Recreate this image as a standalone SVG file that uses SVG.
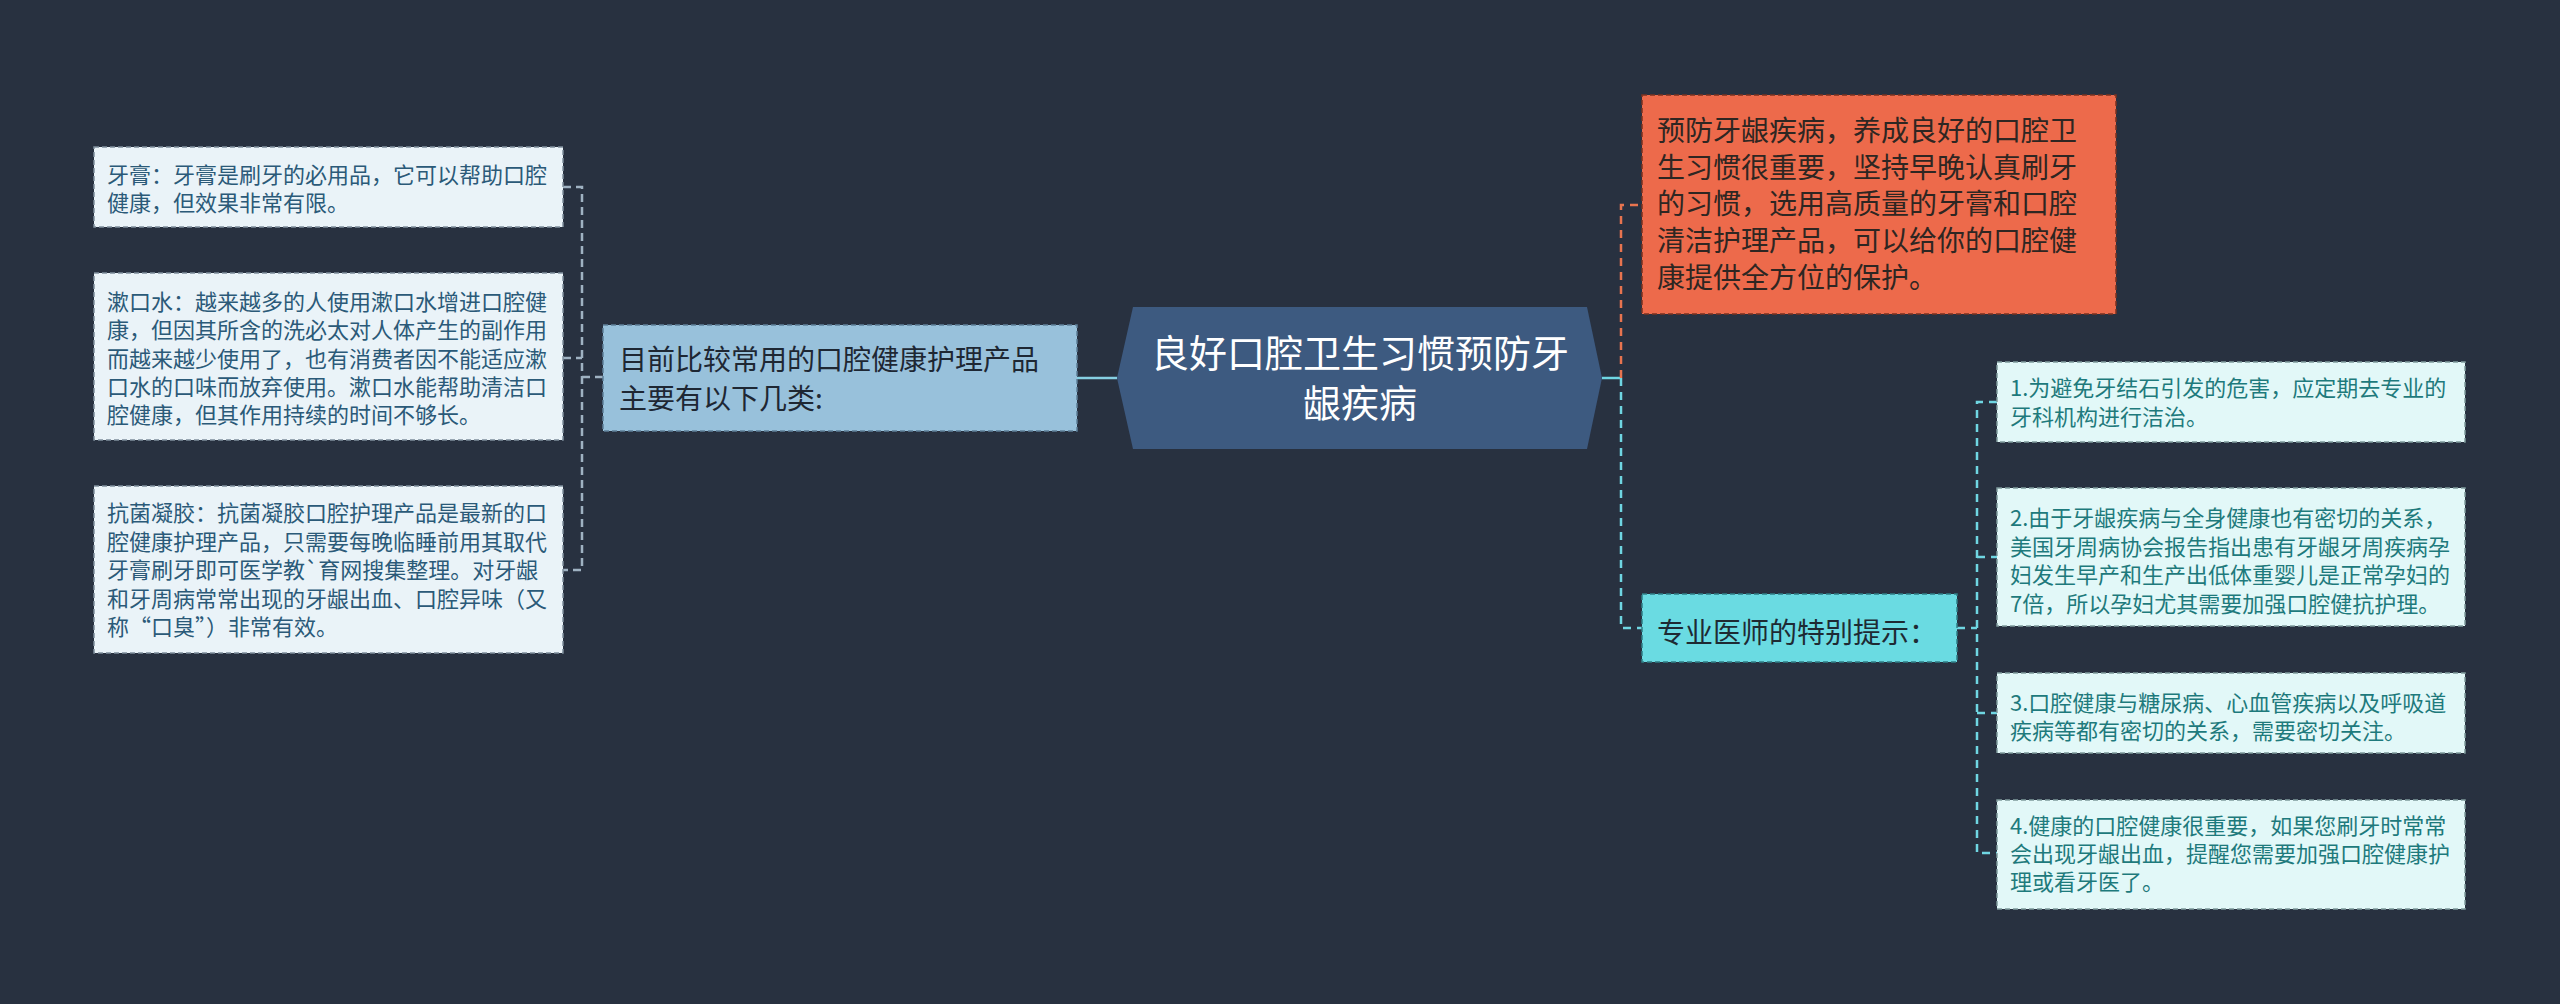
<svg xmlns="http://www.w3.org/2000/svg" width="2560" height="1004" viewBox="0 0 2560 1004">
<style>
text{font-family:"Noto Sans CJK SC","Noto Sans",sans-serif;}
.leaf{fill:#eaf3f8;stroke:#7f8f9c;stroke-width:1.5;stroke-dasharray:5 3;}
.leafT{font-size:22px;fill:#2b5a78;}
.rleaf{fill:#e2f8f8;stroke:#7f9a9c;stroke-width:1.5;stroke-dasharray:5 3;}
.rleafT{font-size:22px;fill:#1e7a7c;}
.c{fill:none;stroke-width:2.5;}
</style>
<rect width="2560" height="1004" fill="#283140"/>
<g id="connectors">
  <path class="c" d="M563 187H582V570H563M563 358H582M582 377H603" stroke="#9fb2c2" stroke-dasharray="8 5"/>
  <path class="c" d="M1077 378H1117" stroke="#86cfe2"/>
  <path class="c" d="M1602 378H1621" stroke="#6fd6e2"/>
  <path class="c" d="M1621 378V205H1642" stroke="#e8744f" stroke-dasharray="8 6"/>
  <path class="c" d="M1621 378V628H1642" stroke="#6fd6e2" stroke-dasharray="8 6"/>
  <path class="c" d="M1957 628H1977M1997 402H1977V853H1997M1977 557H1997M1977 713H1997" stroke="#6fd6e2" stroke-dasharray="8 6"/>
</g>
<g id="root">
  <polygon points="1133,307 1587,307 1602,378 1587,449 1133,449 1117,378" fill="#3d5a80"/>
  <text x="1360" y="367" text-anchor="middle" font-size="38" fill="#ffffff">良好口腔卫生习惯预防牙</text>
  <text x="1360" y="417" text-anchor="middle" font-size="38" fill="#ffffff">龈疾病</text>
</g>
<g id="products">
  <rect x="603" y="325" width="474" height="106" fill="#98c1db" stroke="#5d7f98" stroke-width="1.5" stroke-dasharray="5 3"/>
  <text x="619" y="370" font-size="28" fill="#1e2733">目前比较常用的口腔健康护理产品</text>
  <text x="619" y="409" font-size="28" fill="#1e2733">主要有以下几类:</text>
</g>
<g id="toothpaste">
  <rect class="leaf" x="94" y="147" width="469" height="80"/>
  <text class="leafT" x="107" y="183">牙膏：牙膏是刷牙的必用品，它可以帮助口腔</text>
  <text class="leafT" x="107" y="211">健康，但效果非常有限。</text>
</g>
<g id="mouthwash">
  <rect class="leaf" x="94" y="273" width="469" height="167"/>
  <text class="leafT" x="107" y="310">漱口水：越来越多的人使用漱口水增进口腔健</text>
  <text class="leafT" x="107" y="338">康，但因其所含的洗必太对人体产生的副作用</text>
  <text class="leafT" x="107" y="367">而越来越少使用了，也有消费者因不能适应漱</text>
  <text class="leafT" x="107" y="395">口水的口味而放弃使用。漱口水能帮助清洁口</text>
  <text class="leafT" x="107" y="423">腔健康，但其作用持续的时间不够长。</text>
</g>
<g id="gel">
  <rect class="leaf" x="94" y="486" width="469" height="167"/>
  <text class="leafT" x="107" y="521">抗菌凝胶：抗菌凝胶口腔护理产品是最新的口</text>
  <text class="leafT" x="107" y="550">腔健康护理产品，只需要每晚临睡前用其取代</text>
  <text class="leafT" x="107" y="578">牙膏刷牙即可医学教`育网搜集整理。对牙龈</text>
  <text class="leafT" x="107" y="607">和牙周病常常出现的牙龈出血、口腔异味（又</text>
  <text class="leafT" x="107" y="635">称“口臭”）非常有效。</text>
</g>
<g id="prevention">
  <rect x="1642" y="95" width="474" height="219" fill="#ed6a4b" stroke="#7a3220" stroke-width="1.5" stroke-dasharray="5 3"/>
  <text x="1657" y="141" font-size="28" fill="#2e2622">预防牙龈疾病，养成良好的口腔卫</text>
  <text x="1657" y="178" font-size="28" fill="#2e2622">生习惯很重要，坚持早晚认真刷牙</text>
  <text x="1657" y="214" font-size="28" fill="#2e2622">的习惯，选用高质量的牙膏和口腔</text>
  <text x="1657" y="251" font-size="28" fill="#2e2622">清洁护理产品，可以给你的口腔健</text>
  <text x="1657" y="288" font-size="28" fill="#2e2622">康提供全方位的保护。</text>
</g>
<g id="tips">
  <rect x="1642" y="594" width="315" height="68" fill="#6adbe2" stroke="#2f7f86" stroke-width="1.5" stroke-dasharray="5 3"/>
  <text x="1657" y="643" font-size="28" fill="#1e2a33">专业医师的特别提示：</text>
</g>
<g id="tip1">
  <rect class="rleaf" x="1997" y="362" width="468" height="80"/>
  <text class="rleafT" x="2010" y="396">1.为避免牙结石引发的危害，应定期去专业的</text>
  <text class="rleafT" x="2010" y="425">牙科机构进行洁治。</text>
</g>
<g id="tip2">
  <rect class="rleaf" x="1997" y="488" width="468" height="138"/>
  <text class="rleafT" x="2010" y="526">2.由于牙龈疾病与全身健康也有密切的关系，</text>
  <text class="rleafT" x="2010" y="555">美国牙周病协会报告指出患有牙龈牙周疾病孕</text>
  <text class="rleafT" x="2010" y="583">妇发生早产和生产出低体重婴儿是正常孕妇的</text>
  <text class="rleafT" x="2010" y="612">7倍，所以孕妇尤其需要加强口腔健抗护理。</text>
</g>
<g id="tip3">
  <rect class="rleaf" x="1997" y="673" width="468" height="80"/>
  <text class="rleafT" x="2010" y="711">3.口腔健康与糖尿病、心血管疾病以及呼吸道</text>
  <text class="rleafT" x="2010" y="739">疾病等都有密切的关系，需要密切关注。</text>
</g>
<g id="tip4">
  <rect class="rleaf" x="1997" y="800" width="468" height="109"/>
  <text class="rleafT" x="2010" y="834">4.健康的口腔健康很重要，如果您刷牙时常常</text>
  <text class="rleafT" x="2010" y="862">会出现牙龈出血，提醒您需要加强口腔健康护</text>
  <text class="rleafT" x="2010" y="890">理或看牙医了。</text>
</g>
</svg>
